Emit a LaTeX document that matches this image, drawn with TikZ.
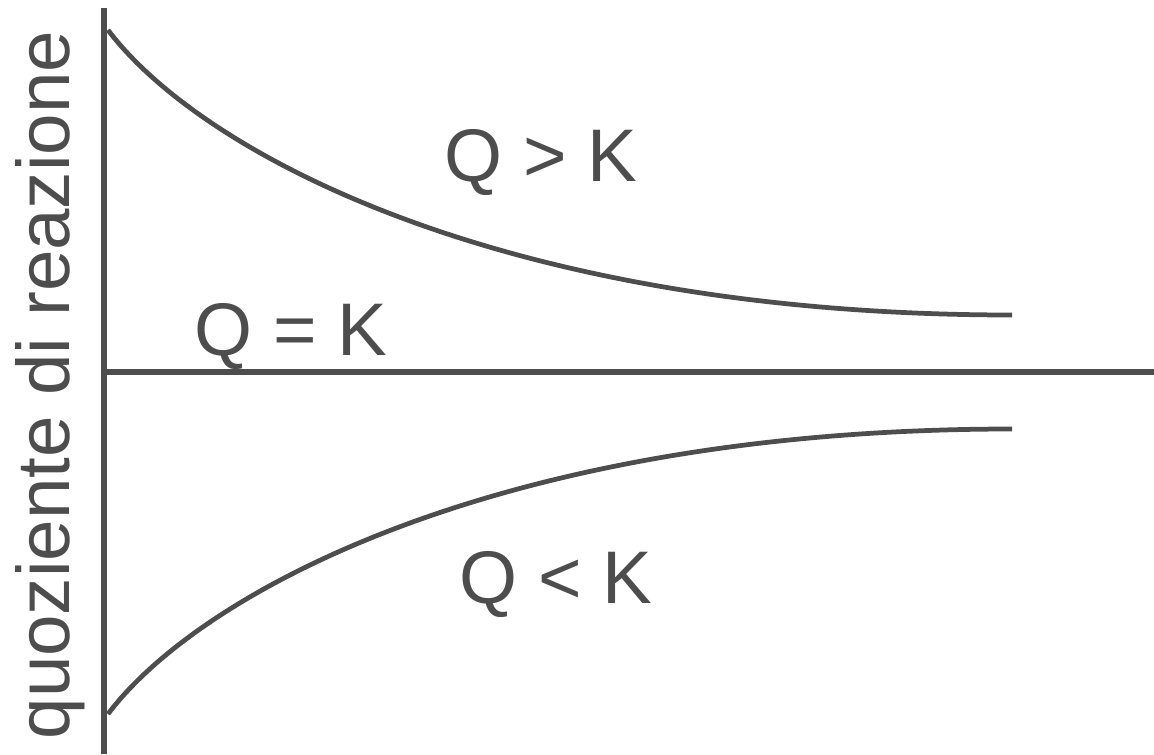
\documentclass[tikz,border=0pt]{standalone}
\usepackage{fontspec}
\setmainfont{Liberation Sans}
\usepackage{tikz}
\usetikzlibrary{positioning,calc}
\definecolor{qkGrey}{HTML}{4D4D4D}
\tikzset{
  axisline/.style={line width=1.55pt, qkGrey},
  curveline/.style={line width=1.35pt, qkGrey},
  qlabel/.style={font=\fontsize{21.2}{25}\selectfont, text=qkGrey, anchor=base, inner sep=0pt}
}
\begin{document}
\begin{tikzpicture}[x=0.01cm, y=-0.01cm]
  \useasboundingbox (0,0) rectangle (1154,754);
  % axes
  \coordinate (origin) at (104,372);
  \coordinate (ytop) at (104,8);
  \coordinate (ybot) at (104,754);
  \coordinate (xend) at (1154,372);
  \draw[axisline] (ytop) -- (ybot);
  \draw[axisline] (origin) -- (xend);
  % curves
  \coordinate (upStart) at (108,30);
  \coordinate (upEnd) at (1012,315);
  \coordinate (loStart) at (108,714);
  \coordinate (loEnd) at (1012,429);
  \draw[curveline] (upStart) .. controls (200,152) and (500,315) .. (upEnd);
  \draw[curveline] (loStart) .. controls (200,592) and (500,429) .. (loEnd);
  % labels
  \node[qlabel] (qgt) at (541,181) {Q > K};
  \node[qlabel] (qeq) at (291,355) {Q = K};
  \node[qlabel] (qlt) at (556,603) {Q < K};
  \node[qlabel, rotate=90] (ylabel) at (69,385) {quoziente di reazione};
\end{tikzpicture}
\end{document}
